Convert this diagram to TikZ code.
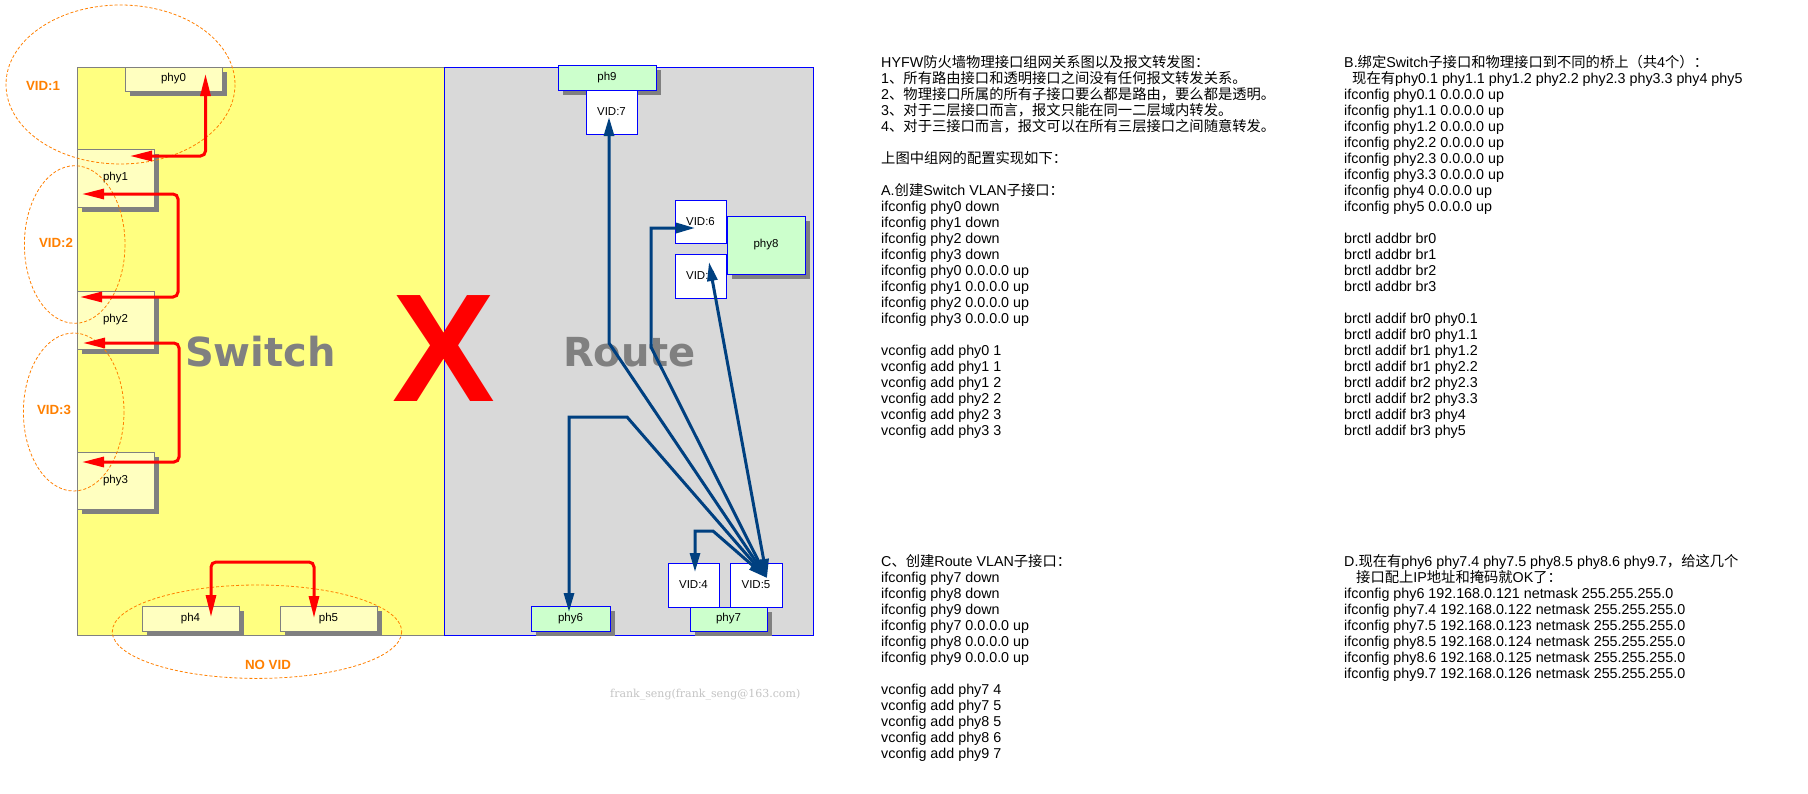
\documentclass[tikz,border=0pt]{standalone}
\usepackage{fontspec}
\setmainfont{Liberation Sans}
\newfontfamily\cjk{Noto Sans CJK SC}
\newfontfamily\heavyfont{DejaVu Sans}
\newfontfamily\wmfont{DejaVu Serif}
\usetikzlibrary{arrows.meta,shadows}
\newcommand\zh[1]{{\cjk #1}}
\newcommand\fl{\rule{0pt}{13pt}}
\definecolor{swyellow}{HTML}{FFFF80}
\definecolor{rtgray}{HTML}{D9D9D9}
\definecolor{boxyellow}{HTML}{FFFFC0}
\definecolor{boxgreen}{HTML}{CCFFCC}
\definecolor{shadowgray}{HTML}{808080}
\definecolor{vidorange}{HTML}{FF8000}
\definecolor{arrowblue}{HTML}{004080}
\definecolor{wmgray}{HTML}{C4C4C4}
\begin{document}
\begin{tikzpicture}[x=1pt,y=-1pt,
  shad/.style={drop shadow={shadow xshift=5pt,shadow yshift=-5pt,fill=shadowgray,opacity=1}},
  ybox/.style={draw=shadowgray,fill=boxyellow,line width=1pt,inner sep=0pt,font=\fontsize{11.5}{13}\selectfont,shad},
  gbox/.style={draw=blue,fill=boxgreen,line width=1pt,inner sep=0pt,font=\fontsize{11.5}{13}\selectfont,shad},
  vbox/.style={draw=blue,fill=white,line width=1pt,inner sep=0pt,font=\fontsize{11.5}{13}\selectfont},
  vidlbl/.style={inner sep=0pt,text=vidorange,font=\fontsize{13.3}{15}\selectfont\bfseries},
  vidring/.style={draw=vidorange,line width=0.8pt,dash pattern=on 3pt off 2pt},
  bigword/.style={anchor=base,inner sep=0pt,text=shadowgray,font=\heavyfont\bfseries\fontsize{40}{40}\selectfont},
  redarrow/.style={draw=red,line width=3pt,rounded corners=5pt,{Triangle[length=22pt,width=10pt]}-{Triangle[length=22pt,width=10pt]}},
  bluearrow/.style={draw=arrowblue,line width=3pt,{Triangle[length=19pt,width=10pt]}-{Triangle[length=19pt,width=10pt]}},
  txt/.style={anchor=north west,inner sep=0pt,align=left,font=\fontsize{14.3}{16}\selectfont}
]
\useasboundingbox (0,0) rectangle (1808,793);
\fill[white] (0,0) rectangle (1808,793);

% areas
\draw[draw=shadowgray,fill=swyellow,line width=1pt] (77,67) rectangle (444,635);
\draw[draw=blue,fill=rtgray,line width=1pt] (444,67) rectangle (813,635);

% big words
\node[bigword] (switch) at (260.5,366.7) {Switch};
\node[bigword] (route) at (629.5,366.7) {Route};
\node[anchor=base,inner sep=0pt,text=red,font=\fontsize{154}{154}\selectfont\bfseries] (bigx) at (443.5,401) {X};

% switch ports
\node[ybox,minimum width=97pt,minimum height=24pt] (phy0) at (173.5,79) {phy0};
\node[ybox,minimum width=77pt,minimum height=58pt] (phy1) at (115.5,178) {phy1};
\node[ybox,minimum width=77pt,minimum height=58pt] (phy2) at (115.5,320) {phy2};
\node[ybox,minimum width=77pt,minimum height=57pt] (phy3) at (115.5,480.5) {phy3};
\node[ybox,minimum width=97pt,minimum height=25pt] (ph4) at (190.5,618.5) {ph4};
\node[ybox,minimum width=97pt,minimum height=25pt] (ph5) at (328.5,618.5) {ph5};

% route ports
\node[gbox,minimum width=98pt,minimum height=25pt] (ph9) at (607,77.5) {ph9};
\node[gbox,minimum width=78pt,minimum height=58pt] (phy8) at (766,245) {phy8};
\node[gbox,minimum width=79pt,minimum height=25pt] (phy6) at (570.5,618.5) {phy6};
\node[gbox,minimum width=77pt,minimum height=24pt] (phy7) at (728.5,619) {phy7};
\node[vbox,minimum width=51pt,minimum height=44pt] (vid7) at (611.5,112) {VID:7};
\node[vbox,minimum width=51pt,minimum height=43pt] (vid6) at (700.5,221.5) {VID:6};
\node[vbox,minimum width=51pt,minimum height=44pt] (vid5u) at (700.5,276) {VID:5};
\node[vbox,minimum width=51pt,minimum height=44pt] (vid4) at (693.5,585) {VID:4};
\node[vbox,minimum width=52pt,minimum height=44pt] (vid5) at (756,585) {VID:5};

% VLAN rings
\draw[vidring] (120.5,84.5) ellipse [x radius=114.5, y radius=79.5];
\draw[vidring] (74.7,244.5) ellipse [x radius=50.3, y radius=78.8];
\draw[vidring] (73.7,412) ellipse [x radius=50.3, y radius=79];
\draw[vidring] (257,631.7) ellipse [x radius=144.7, y radius=46.7];
\node[vidlbl] (l1) at (43,86) {VID:1};
\node[vidlbl] (l2) at (56,243) {VID:2};
\node[vidlbl] (l3) at (54,410) {VID:3};
\node[vidlbl] (l4) at (268,665) {NO VID};

% red (switch) connectors
\coordinate (r1s) at (130,156);   \coordinate (r1e) at (205.5,74);
\coordinate (r2s) at (82,194);    \coordinate (r2e) at (80,297);
\coordinate (r3s) at (83,343);    \coordinate (r3e) at (82,462);
\coordinate (r4s) at (211,617);   \coordinate (r4e) at (314,618);
\draw[redarrow] (r1s) -| (r1e);
\draw[redarrow] (r2s) -- ++(96,0) |- (r2e);
\draw[redarrow] (r3s) -- ++(96,0) |- (r3e);
\draw[redarrow] (r4s) -- ++(0,-55) -| (r4e);

% blue (route) connectors
\coordinate (v5tip) at (767,578);
\coordinate (v7tip) at (609,117);   \coordinate (b1c) at (609,343);
\coordinate (v6tip) at (695,228);   \coordinate (b2c) at (651,347);
\coordinate (v5utip) at (709,262);
\coordinate (p6tip) at (569,612);   \coordinate (b4c) at (627,417);
\coordinate (v4tip) at (695,572);   \coordinate (b5c) at (713,531);
\draw[bluearrow] (v5tip) -- (b1c) -- (v7tip);
\draw[bluearrow] (v5tip) -- (b2c) |- (v6tip);
\draw[bluearrow] (v5tip) -- (v5utip);
\draw[bluearrow] (v5tip) -- (b4c) -| (p6tip);
\draw[bluearrow] (v5tip) -- (b5c) -| (v4tip);

% watermark
\node[anchor=base west,inner sep=0pt,text=wmgray,font=\wmfont\fontsize{11}{13}\selectfont] (wm) at (610,697) {frank\_seng(frank\_seng@163.com)};

% text blocks
\node[txt] (blockA) at (881,54) {\fl HYFW\zh{防火墙物理接口组网关系图以及报文转发图：}\\
1\zh{、所有路由接口和透明接口之间没有任何报文转发关系。}\\
2\zh{、物理接口所属的所有子接口要么都是路由，要么都是透明。}\\
3\zh{、对于二层接口而言，报文只能在同一二层域内转发。}\\
4\zh{、对于三接口而言，报文可以在所有三层接口之间随意转发。}\\
\mbox{}\\
\zh{上图中组网的配置实现如下：}\\
\mbox{}\\
A.\zh{创建}Switch VLAN\zh{子接口：}\\
ifconfig phy0 down\\
ifconfig phy1 down\\
ifconfig phy2 down\\
ifconfig phy3 down\\
ifconfig phy0 0.0.0.0 up\\
ifconfig phy1 0.0.0.0 up\\
ifconfig phy2 0.0.0.0 up\\
ifconfig phy3 0.0.0.0 up\\
\mbox{}\\
vconfig add phy0 1\\
vconfig add phy1 1\\
vconfig add phy1 2\\
vconfig add phy2 2\\
vconfig add phy2 3\\
vconfig add phy3 3};

\node[txt] (blockB) at (1344,54) {\fl B.\zh{绑定}Switch\zh{子接口和物理接口到不同的桥上（共}4\zh{个）：}\\
\hspace*{8pt}\zh{现在有}phy0.1 phy1.1 phy1.2 phy2.2 phy2.3 phy3.3 phy4 phy5\\
ifconfig phy0.1 0.0.0.0 up\\
ifconfig phy1.1 0.0.0.0 up\\
ifconfig phy1.2 0.0.0.0 up\\
ifconfig phy2.2 0.0.0.0 up\\
ifconfig phy2.3 0.0.0.0 up\\
ifconfig phy3.3 0.0.0.0 up\\
ifconfig phy4 0.0.0.0 up\\
ifconfig phy5 0.0.0.0 up\\
\mbox{}\\
brctl addbr br0\\
brctl addbr br1\\
brctl addbr br2\\
brctl addbr br3\\
\mbox{}\\
brctl addif br0 phy0.1\\
brctl addif br0 phy1.1\\
brctl addif br1 phy1.2\\
brctl addif br1 phy2.2\\
brctl addif br2 phy2.3\\
brctl addif br2 phy3.3\\
brctl addif br3 phy4\\
brctl addif br3 phy5};

\node[txt] (blockC) at (881,553) {\fl C\zh{、创建}Route VLAN\zh{子接口：}\\
ifconfig phy7 down\\
ifconfig phy8 down\\
ifconfig phy9 down\\
ifconfig phy7 0.0.0.0 up\\
ifconfig phy8 0.0.0.0 up\\
ifconfig phy9 0.0.0.0 up\\
\mbox{}\\
vconfig add phy7 4\\
vconfig add phy7 5\\
vconfig add phy8 5\\
vconfig add phy8 6\\
vconfig add phy9 7};

\node[txt] (blockD) at (1344,553) {\fl D.\zh{现在有}phy6 phy7.4 phy7.5 phy8.5 phy8.6 phy9.7\zh{，给这几个}\\
\hspace*{12pt}\zh{接口配上}IP\zh{地址和掩码就}OK\zh{了：}\\
ifconfig phy6 192.168.0.121 netmask 255.255.255.0\\
ifconfig phy7.4 192.168.0.122 netmask 255.255.255.0\\
ifconfig phy7.5 192.168.0.123 netmask 255.255.255.0\\
ifconfig phy8.5 192.168.0.124 netmask 255.255.255.0\\
ifconfig phy8.6 192.168.0.125 netmask 255.255.255.0\\
ifconfig phy9.7 192.168.0.126 netmask 255.255.255.0};
\end{tikzpicture}
\end{document}
